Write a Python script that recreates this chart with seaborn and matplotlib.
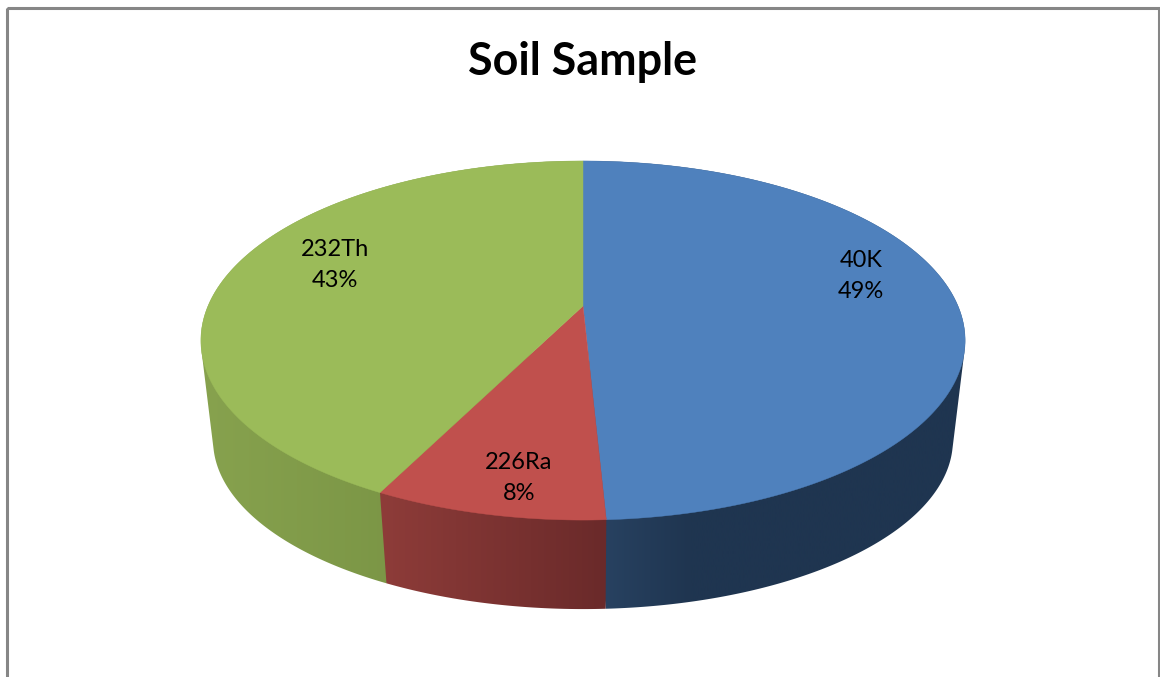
import numpy as np
import matplotlib
matplotlib.use("Agg")
import matplotlib.pyplot as plt
from matplotlib.colors import to_rgb
from matplotlib.patches import Polygon, Rectangle
import seaborn as sns

# Activity share of each radionuclide in the soil sample (percent)
nuclides = ["40K", "226Ra", "232Th"]
shares = [49.2, 8.2, 42.6]

top_colors = ["#4F81BD", "#C0504D", "#9BBB59"]
# Wall shading: colour at the left and right end of each slice's outer wall
wall_left = ["#2A4565", "#8E3C39", "#87A24E"]
wall_right = ["#1F3550", "#6A2A2A", "#708A3E"]
# Fraction of the wall's width over which the shading runs
wall_ramp = [0.28, 1.0, 1.0]

sns.set_theme(style="white")
plt.rcParams["font.family"] = ["Lato", "DejaVu Sans"]

fig = plt.figure(figsize=(11.6, 6.77), dpi=100)
ax = fig.add_axes([0, 0, 1, 1])
ax.axis("off")

# Chart frame, open at the bottom edge
ax.add_patch(Rectangle((7, 8), 1152, 690, fill=False, ec="#868686", lw=2.2))

# Perspective projection of the unit disc onto the page
CX, TILT = 583.0, 0.1922
HALF_W = 375.0


def top_face(theta):
    u, v = np.sin(theta), np.cos(theta)
    w = 1 + TILT * v
    return CX + HALF_W * u / w, (306.0 - 114.1 * v) / w


def base_edge(theta):
    x, y = top_face(theta)
    return CX + (x - CX) * 0.968, 440.0 + (y - 340.0) * 0.939


def convex_hull(points):
    pts = sorted(set(map(tuple, points)))

    def half(seq):
        chain = []
        for p in seq:
            while len(chain) > 1 and (
                (chain[-1][0] - chain[-2][0]) * (p[1] - chain[-2][1])
                - (chain[-1][1] - chain[-2][1]) * (p[0] - chain[-2][0])
            ) <= 0:
                chain.pop()
            chain.append(p)
        return chain[:-1]

    return np.array(half(pts) + half(pts[::-1]))


edges = np.radians(np.concatenate([[0], np.cumsum(shares)]) / sum(shares) * 360)

# Outer walls first, so the top faces cover whatever lies behind them.
# The nearest slice goes last because its neighbours' outlines reach behind it.
for idx in (2, 0, 1):
    a0, a1 = edges[idx], edges[idx + 1]
    thetas = np.linspace(a0, a1, 400)
    top_pts = np.column_stack(top_face(thetas))
    base_pts = np.column_stack(base_edge(thetas))
    outline = convex_hull(np.vstack([top_pts, base_pts]))
    lo, hi = outline[:, 0].min(), outline[:, 0].max()
    f = np.clip(np.linspace(0, 1, 512) / wall_ramp[idx], 0, 1)[:, None]
    c_l, c_r = np.array(to_rgb(wall_left[idx])), np.array(to_rgb(wall_right[idx]))
    shade = (c_l + (c_r - c_l) * f)[None, :, :]
    img = ax.imshow(shade, extent=(lo, hi, 677, 0), aspect="auto",
                    interpolation="bilinear", zorder=2 + idx * 0.01 + (idx == 1))
    img.set_clip_path(Polygon(outline, closed=True, transform=ax.transData))

ax.set_xlim(0, 1160)
ax.set_ylim(677, 0)

# Top faces of the slices
apex = (CX, 306.0)
for a0, a1, col in zip(edges[:-1], edges[1:], top_colors):
    thetas = np.linspace(a0, a1, 300)
    xt, yt = top_face(thetas)
    pts = np.vstack([[apex], np.column_stack([xt, yt])])
    ax.add_patch(Polygon(pts, closed=True, fc=col, ec=col, lw=0.3, zorder=4))

# Slice labels
label_xy = [(861, 276), (519, 478), (335, 265)]
for name, share, (x, y) in zip(nuclides, shares, label_xy):
    ax.text(x, y, f"{name}\n{share:.0f}%", ha="center", va="center",
            fontsize=17, color="black", linespacing=1.6, zorder=5)

ax.text(582.5, 62, "Soil Sample", ha="center", va="center",
        fontsize=32.3, fontweight="bold", color="black", zorder=5)

fig.savefig("out.png", dpi=100, facecolor="white")
